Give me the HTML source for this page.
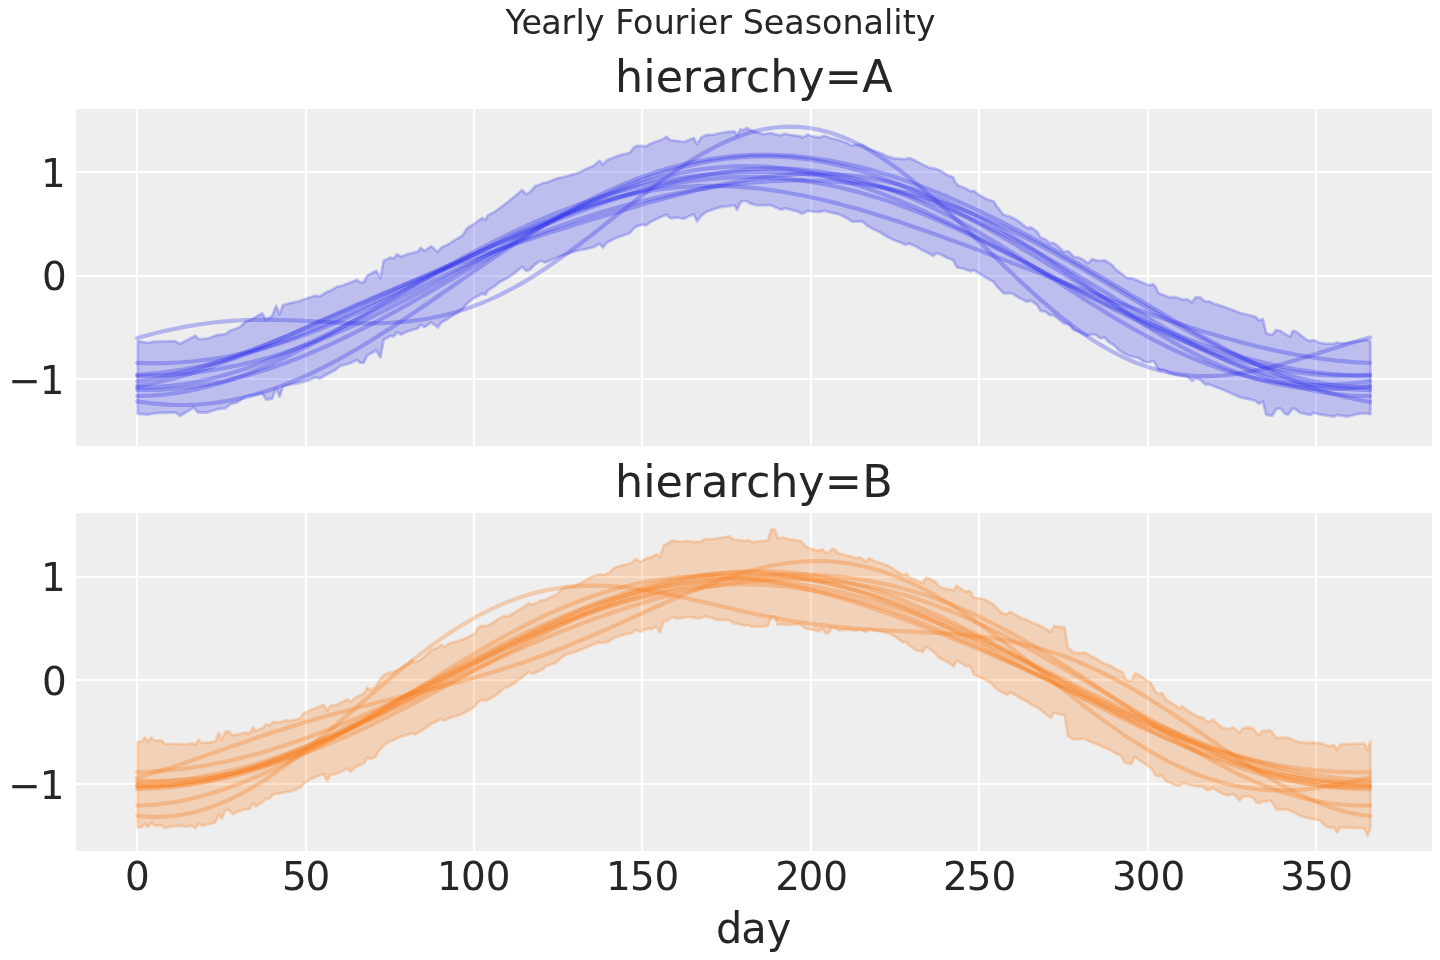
<!DOCTYPE html>
<html lang="en">
<head>
<meta charset="utf-8">
<title>Yearly Fourier Seasonality</title>
<style>
html,body{margin:0;padding:0;background:#fff;}
body{width:1440px;height:960px;overflow:hidden;}
svg{display:block;}
text{font-family:"DejaVu Sans","Liberation Sans",sans-serif;fill:#262626;}
.t{font-size:38.889px;}
.ax{font-size:44.444px;}
.su{font-size:33.333px;}
.xl{font-size:41.667px;}
.g{stroke:#fff;stroke-width:2.222;fill:none;}
.b{stroke-width:2.778;stroke-linejoin:round;fill-opacity:0.25;stroke-opacity:0.25;}
.l{fill:none;stroke-width:4.167;stroke-linecap:round;stroke-linejoin:round;stroke-opacity:0.3;}
</style>
</head>
<body>
<svg width="1440" height="960" viewBox="0 0 1440 960" role="img" aria-label="Yearly Fourier Seasonality: HDI band and sampled curves for hierarchy A and B by day">
<rect width="1440" height="960" fill="#ffffff"/>
<defs>
<clipPath id="c0"><rect x="76" y="109" width="1356" height="337"/></clipPath>
<clipPath id="c1"><rect x="76" y="513" width="1356" height="338"/></clipPath>
</defs>
<text id="sup" class="su" x="505.57 521.5 541.25 561.54 575.47 584.79 604.48 615.13 633.07 653.67 674.56 688.48 697.77 718.27 731.75 742.79 763.85 784.37 804.8 822.05 842.6 863.56 884.06 893.31 902.68 915.66" y="34.33">Yearly Fourier Seasonality</text>
<g id="panel-A">
<text id="tA" class="ax" x="615.11 643.25 655.63 682.76 701.2 728.25 745.79 770.16 798.31 824.77 862.21" y="92">hierarchy=A</text>
<rect x="76" y="109" width="1356" height="337" fill="#eeeeee"/>
<path class="g" d="M137 109V446M306 109V446M474 109V446M642 109V446M811 109V446M979 109V446M1148 109V446M1316 109V446M76 379H1432M76 276H1432M76 172H1432"/>
<g clip-path="url(#c0)" fill="#2a2eec" stroke="#2a2eec">
<path class="b" d="M137.6 340.8L147.9 343L153.7 341.7L170.4 341.2L175.4 341.3L180.4 343.8L187.1 340L195.4 335.8L198.7 339.2L207.1 338.7L217.1 335L225.4 334.2L230.4 330.5L237.1 328.3L240.4 326.7L245.4 321.7L252.1 319.2L262.1 313.3L266.2 320L272.1 315.8L276.2 305.8L279.6 314.2L282.9 305L288.7 303.3L297.1 301.7L307.1 298.3L315.4 295.5L319.6 296.7L327.1 291.7L330.4 290.8L337.1 286.7L342.1 285.8L350.4 282.5L357.1 280L360.4 282.5L363.7 282.5L367.1 275.8L376.2 270.8L380.4 278.3L383.7 260.8L390.4 257.5L393.7 258.3L397.1 254.2L401.2 256.7L407.1 254.2L417.9 251.7L420.4 248L424.6 250.8L431.2 246.3L437.9 252L441.2 247.5L447.1 245L453.7 240.8L462.1 235.8L467.1 228.3L473.7 224.2L482.1 218L485.4 219.7L487.9 215.3L493.7 212.5L500.4 207.5L507.1 202.5L515.4 195.8L522.1 190L526.2 194.2L529.6 192.5L535.4 185.8L538.7 185L542.9 183L547.1 182.5L557.1 178.3L563.7 177L573.7 174.2L580.4 172L585.4 169.2L593.7 165.8L599.6 160.8L602.9 164.7L607.1 160L615.4 156.7L623.7 154.2L629.6 153L633.7 147.5L637.1 145.8L642.9 145.8L646.2 146.3L650.4 143.7L657.1 141.3L663.7 138.7L666.7 136.7L670.4 140.3L677.1 140.8L683.7 142L688.7 140L693.7 138L697.1 144.2L701.2 137.5L706.2 135L713.7 134.7L720.4 133L727.1 132L734.6 131.3L737.1 135.3L740.4 129.2L742.9 130.3L747.1 128L750.4 130L757.1 132.5L763.7 134.2L770.4 133L777.1 134.7L781.2 135.3L784.6 133.7L790.4 135L797.1 135.8L800.4 136.3L802.1 137.5L807.9 134.7L813.7 136.7L819.6 137.5L824.6 135.8L830.4 138L838.7 140L847.1 143L852.1 145.8L855.4 144.7L862.1 145L867.1 148L873.7 150.8L880.4 153L887.1 156.3L893.7 158.3L900.4 158.8L905.4 159.2L909.6 158L915.4 160.8L922.1 164.2L928.7 167.5L935.4 168.7L940.4 170.8L947.1 175L952.9 177L955.4 182.5L958.7 185.8L963.7 187.5L970.4 191.3L973.7 190.8L980.4 195.8L987.1 199.2L993.7 201.3L997.1 206.7L1003.7 215L1010.4 216.7L1015.4 219.2L1020.4 222.5L1022.1 224.2L1027.1 228L1031.2 227.5L1037.1 231.7L1040.4 237.5L1045.4 239.2L1049.6 243L1053.7 243L1058.7 246.7L1063.7 251.7L1068.7 251.3L1073.7 256.7L1078.7 257.5L1083.7 260L1087.9 263.3L1092.1 259.2L1098.7 260.8L1104.6 260.3L1112.1 265L1115.4 269.2L1122.1 274.2L1127.1 278L1132.1 278.3L1140.4 281.7L1148.7 285.3L1152.9 284.2L1155.4 286.7L1158.7 293.3L1165.4 295.8L1169.6 297.5L1173.7 297L1180.4 298.7L1182.1 299.7L1187.1 299.2L1192.1 302.5L1195.4 297.2L1200.4 297.5L1205.4 301.7L1208.7 301.3L1215.4 304.2L1223.7 306.7L1232.1 309.7L1240.4 313L1248.7 315L1255.4 316.7L1258.7 320.3L1262.9 319.2L1266.2 333.3L1272.1 335L1276.2 330L1280.4 330.8L1285.4 334.2L1290.4 336.7L1292.9 330.8L1296.2 331.7L1302.1 336.3L1307.1 340L1310.4 340.8L1313.7 340L1318.7 342.5L1325.4 343.7L1333.7 343.7L1337.1 342.5L1342.1 343.3L1347.1 343L1353.7 341.7L1360.4 340.8L1367.1 340L1370.4 341.3L1370.4 414.2L1367.1 413.7L1360.4 413.3L1353.7 415L1347.1 416.7L1342.1 415.8L1337.1 415L1333.7 416.7L1325.4 415.3L1318.7 414.2L1313.7 413L1310.4 415L1307.1 414.2L1300.4 413L1296.2 409.7L1292.9 408.3L1287.9 414.7L1285.4 414.2L1280.4 408.3L1276.2 409.2L1272.1 415.8L1266.2 414.7L1262.9 401.7L1258.7 403.7L1255.4 400.8L1248.7 399.2L1240.4 397.5L1232.1 393.7L1223.7 390L1215.4 386.7L1208.7 384.2L1205.4 384.7L1200.4 379.7L1195.4 378.3L1192.1 380.8L1187.1 376.7L1182.1 375.8L1173.7 374.2L1168.7 372.5L1163.7 370L1158.7 370L1153.7 360.8L1148.7 362.5L1143.7 361.7L1138.7 358L1133.7 357L1128.7 355.8L1123.7 353L1118.7 350L1113.7 345L1108.7 342L1104.6 337.5L1100.4 338.3L1095.4 334.7L1090.4 334.2L1087.1 335.8L1080.4 332.5L1073.7 330L1068.7 324.2L1063.7 323.3L1058.7 319.2L1053.7 315.3L1049.6 315L1045.4 311.7L1040.4 310.8L1037.1 305L1031.2 300.8L1027.1 301.7L1022.1 299.2L1017.1 296.7L1012.1 293.3L1003.7 293.3L997.1 286.7L993.7 282L987.1 278.3L980.4 274.2L973.7 270L970.4 271.2L963.7 268.7L957.1 267.5L952.9 260L947.1 258L940.4 254.2L936.2 253.3L932.9 255.8L928.7 253.3L922.1 250L915.4 246.3L909.6 243.7L905.4 244.7L900.4 242.5L893.7 240L887.1 236.7L880.4 232.5L873.7 229.2L867.1 225.8L862.1 221.3L855.4 221.7L852.1 221.7L847.1 218.3L838.7 214.2L830.4 212.5L824.6 210.8L819.6 212L813.7 211.7L807.9 210.8L802.1 213.7L800.4 213L797.1 211.3L790.4 209.7L784.6 208.3L781.2 209.7L777.1 208L770.4 205L763.7 205.3L757.1 205.3L750.4 203.7L747.1 201.3L742.9 200.8L740.4 202.5L737.1 210L734.6 205.3L727.1 206.3L720.4 207L713.7 209.2L706.2 212L701.2 215.8L697.1 221.3L693.7 214.2L688.7 216.3L683.7 218.7L677.1 217.5L670.4 218.3L666.7 214.7L663.7 215.8L657.1 218.7L650.4 222L646.2 225.3L642.9 224.7L637.1 226.2L633.7 228.3L629.6 233.3L623.7 235.3L615.4 238.3L607.1 242.5L602.9 247.5L599.6 243.7L593.7 247L585.4 249.2L580.4 250L573.7 251.7L563.7 255L557.1 257.5L545.4 262.5L540.4 260.8L535.4 264.2L529.6 270L526.2 270.8L522.1 266.7L515.4 272.5L507.1 278.3L500.4 281.7L493.7 286.7L487.9 290.3L485.4 294.7L482.1 293.7L473.7 298.3L467.1 303.3L462.1 309.7L453.7 315L447.1 319.2L441.2 322.5L437.9 327.5L431.2 322.3L424.6 327.2L420.4 324.6L417.9 328.4L407.1 331.6L401.2 334.5L397.1 332.2L393.7 336.6L390.4 336L383.7 339.8L380.4 357.5L376.2 350.2L367.1 355.8L363.7 362.7L360.4 362.9L357.1 360L350.4 363.3L340.4 365.8L335.4 370L327.1 374.2L319.6 378.7L315.4 377.5L307.1 380.8L297.1 383.3L288.7 385L282.9 386.7L279.6 396.7L276.2 388.3L272.1 398.7L266.2 399.7L262.1 393.3L253.7 395L245.4 396.7L237.1 402.5L230.4 404.2L225.4 408.3L217.1 409.2L207.1 412.5L197.9 412.5L193.7 407.5L187.1 411.7L180.4 415.8L175.4 412.5L170.4 412.5L153.7 413.3L147.9 414.7L137.6 413.8Z"/>
<path class="l" d="M137.2 338.1L143.9 336.3L150.7 334.5L157.4 332.8L164.1 331.1L170.9 329.6L177.6 328.2L184.4 326.9L191.1 325.7L197.8 324.6L204.6 323.7L211.3 322.8L218 322.1L224.8 321.4L231.5 320.9L238.2 320.5L245 320.2L251.7 320L258.5 319.9L265.2 319.9L271.9 319.9L278.7 320L285.4 320.2L292.1 320.4L298.9 320.7L305.6 321L312.4 321.4L319.1 321.7L325.8 322L332.6 322.4L339.3 322.6L346 322.9L352.8 323.1L359.5 323.3L366.2 323.3L373 323.3L379.7 323.2L386.5 323L393.2 322.7L399.9 322.2L406.7 321.6L413.4 320.8L420.1 319.9L426.9 318.8L433.6 317.5L440.4 316.1L447.1 314.5L453.8 312.7L460.6 310.6L467.3 308.4L474 306L480.8 303.4L487.5 300.6L494.2 297.6L501 294.4L507.7 290.9L514.5 287.3L521.2 283.6L527.9 279.6L534.7 275.5L541.4 271.1L548.1 266.7L554.9 262.1L561.6 257.3L568.4 252.5L575.1 247.5L581.8 242.5L588.6 237.3L595.3 232.1L602 226.8L608.8 221.5L615.5 216.2L622.2 210.9L629 205.6L635.7 200.3L642.5 195.1L649.2 190L655.9 184.9L662.7 179.9L669.4 175.1L676.1 170.4L682.9 165.9L689.6 161.5L696.3 157.3L703.1 153.4L709.8 149.6L716.6 146.1L723.3 142.9L730 139.9L736.8 137.2L743.5 134.7L750.2 132.6L757 130.8L763.7 129.3L770.5 128.1L777.2 127.3L783.9 126.8L790.7 126.7L797.4 126.8L804.1 127.4L810.9 128.3L817.6 129.5L824.3 131.1L831.1 133L837.8 135.2L844.6 137.8L851.3 140.7L858 144L864.8 147.5L871.5 151.3L878.2 155.5L885 159.9L891.7 164.5L898.5 169.4L905.2 174.6L911.9 179.9L918.7 185.5L925.4 191.2L932.1 197.2L938.9 203.2L945.6 209.4L952.3 215.7L959.1 222.1L965.8 228.6L972.6 235.1L979.3 241.7L986 248.3L992.8 254.8L999.5 261.4L1006.2 267.9L1013 274.3L1019.7 280.7L1026.4 286.9L1033.2 293.1L1039.9 299.1L1046.7 304.9L1053.4 310.6L1060.1 316.2L1066.9 321.5L1073.6 326.6L1080.3 331.5L1087.1 336.2L1093.8 340.7L1100.6 344.9L1107.3 348.8L1114 352.5L1120.8 355.9L1127.5 359.1L1134.2 362L1141 364.6L1147.7 366.9L1154.4 369L1161.2 370.8L1167.9 372.3L1174.7 373.6L1181.4 374.6L1188.1 375.3L1194.9 375.8L1201.6 376.1L1208.3 376.1L1215.1 375.9L1221.8 375.5L1228.6 374.8L1235.3 374L1242 373L1248.8 371.9L1255.5 370.5L1262.2 369.1L1269 367.5L1275.7 365.8L1282.4 364L1289.2 362.1L1295.9 360.1L1302.7 358.1L1309.4 356L1316.1 353.9L1322.9 351.8L1329.6 349.6L1336.3 347.5L1343.1 345.4L1349.8 343.3L1356.6 341.3L1363.3 339.3L1370 337.4"/>
<path class="l" d="M137.2 362.9L143.9 363.1L150.7 363.2L157.4 363.2L164.1 363.1L170.9 362.8L177.6 362.5L184.4 362L191.1 361.5L197.8 360.8L204.6 360L211.3 359.1L218 358.1L224.8 357L231.5 355.7L238.2 354.3L245 352.8L251.7 351.3L258.5 349.5L265.2 347.7L271.9 345.8L278.7 343.8L285.4 341.6L292.1 339.4L298.9 337.1L305.6 334.6L312.4 332.1L319.1 329.5L325.8 326.8L332.6 324L339.3 321.1L346 318.2L352.8 315.1L359.5 312.1L366.2 308.9L373 305.7L379.7 302.5L386.5 299.2L393.2 295.8L399.9 292.5L406.7 289L413.4 285.6L420.1 282.2L426.9 278.7L433.6 275.2L440.4 271.8L447.1 268.3L453.8 264.8L460.6 261.4L467.3 257.9L474 254.5L480.8 251.2L487.5 247.8L494.2 244.6L501 241.3L507.7 238.1L514.5 235L521.2 231.9L527.9 228.9L534.7 226L541.4 223.2L548.1 220.4L554.9 217.7L561.6 215.1L568.4 212.6L575.1 210.2L581.8 207.9L588.6 205.7L595.3 203.6L602 201.7L608.8 199.8L615.5 198L622.2 196.4L629 194.9L635.7 193.4L642.5 192.2L649.2 191L655.9 189.9L662.7 189L669.4 188.2L676.1 187.5L682.9 186.9L689.6 186.5L696.3 186.2L703.1 185.9L709.8 185.9L716.6 185.9L723.3 186L730 186.3L736.8 186.6L743.5 187.1L750.2 187.7L757 188.3L763.7 189.1L770.5 190L777.2 191L783.9 192L790.7 193.2L797.4 194.5L804.1 195.8L810.9 197.2L817.6 198.7L824.3 200.3L831.1 201.9L837.8 203.6L844.6 205.4L851.3 207.2L858 209.1L864.8 211.1L871.5 213.1L878.2 215.2L885 217.3L891.7 219.4L898.5 221.6L905.2 223.9L911.9 226.2L918.7 228.5L925.4 230.8L932.1 233.2L938.9 235.6L945.6 238L952.3 240.5L959.1 242.9L965.8 245.4L972.6 247.9L979.3 250.4L986 253L992.8 255.5L999.5 258.1L1006.2 260.6L1013 263.2L1019.7 265.7L1026.4 268.3L1033.2 270.9L1039.9 273.4L1046.7 276L1053.4 278.5L1060.1 281.1L1066.9 283.6L1073.6 286.2L1080.3 288.7L1087.1 291.2L1093.8 293.7L1100.6 296.2L1107.3 298.7L1114 301.2L1120.8 303.6L1127.5 306L1134.2 308.4L1141 310.8L1147.7 313.2L1154.4 315.5L1161.2 317.8L1167.9 320.1L1174.7 322.3L1181.4 324.5L1188.1 326.7L1194.9 328.8L1201.6 330.9L1208.3 333L1215.1 335L1221.8 336.9L1228.6 338.8L1235.3 340.7L1242 342.5L1248.8 344.2L1255.5 345.9L1262.2 347.5L1269 349.1L1275.7 350.6L1282.4 352L1289.2 353.4L1295.9 354.7L1302.7 355.8L1309.4 357L1316.1 358L1322.9 358.9L1329.6 359.8L1336.3 360.6L1343.1 361.2L1349.8 361.8L1356.6 362.3L1363.3 362.7L1370 362.9"/>
<path class="l" d="M137.2 401.4L143.9 402.4L150.7 403.3L157.4 403.9L164.1 404.4L170.9 404.8L177.6 405L184.4 405L191.1 404.8L197.8 404.5L204.6 403.9L211.3 403.2L218 402.4L224.8 401.3L231.5 400.1L238.2 398.7L245 397.2L251.7 395.5L258.5 393.6L265.2 391.5L271.9 389.3L278.7 386.9L285.4 384.4L292.1 381.7L298.9 378.9L305.6 375.9L312.4 372.8L319.1 369.5L325.8 366.2L332.6 362.7L339.3 359L346 355.3L352.8 351.5L359.5 347.5L366.2 343.5L373 339.3L379.7 335.1L386.5 330.8L393.2 326.5L399.9 322.1L406.7 317.6L413.4 313.1L420.1 308.5L426.9 303.9L433.6 299.2L440.4 294.6L447.1 289.9L453.8 285.3L460.6 280.6L467.3 275.9L474 271.3L480.8 266.6L487.5 262L494.2 257.5L501 252.9L507.7 248.5L514.5 244L521.2 239.7L527.9 235.4L534.7 231.1L541.4 227L548.1 222.9L554.9 218.9L561.6 215L568.4 211.2L575.1 207.5L581.8 203.9L588.6 200.4L595.3 197L602 193.8L608.8 190.6L615.5 187.6L622.2 184.7L629 181.9L635.7 179.3L642.5 176.8L649.2 174.4L655.9 172.1L662.7 170L669.4 168.1L676.1 166.2L682.9 164.5L689.6 162.9L696.3 161.5L703.1 160.2L709.8 159.1L716.6 158.1L723.3 157.2L730 156.4L736.8 155.8L743.5 155.4L750.2 155L757 154.8L763.7 154.8L770.5 154.8L777.2 155L783.9 155.3L790.7 155.7L797.4 156.3L804.1 157L810.9 157.8L817.6 158.7L824.3 159.8L831.1 160.9L837.8 162.2L844.6 163.6L851.3 165L858 166.6L864.8 168.3L871.5 170.1L878.2 172L885 174L891.7 176.1L898.5 178.3L905.2 180.6L911.9 182.9L918.7 185.4L925.4 187.9L932.1 190.6L938.9 193.3L945.6 196L952.3 198.9L959.1 201.8L965.8 204.9L972.6 207.9L979.3 211.1L986 214.3L992.8 217.6L999.5 220.9L1006.2 224.3L1013 227.8L1019.7 231.3L1026.4 234.9L1033.2 238.5L1039.9 242.2L1046.7 245.9L1053.4 249.6L1060.1 253.4L1066.9 257.3L1073.6 261.1L1080.3 265L1087.1 268.9L1093.8 272.9L1100.6 276.8L1107.3 280.8L1114 284.8L1120.8 288.8L1127.5 292.8L1134.2 296.8L1141 300.8L1147.7 304.8L1154.4 308.8L1161.2 312.8L1167.9 316.7L1174.7 320.7L1181.4 324.6L1188.1 328.4L1194.9 332.2L1201.6 336L1208.3 339.8L1215.1 343.4L1221.8 347.1L1228.6 350.6L1235.3 354.1L1242 357.5L1248.8 360.8L1255.5 364.1L1262.2 367.2L1269 370.3L1275.7 373.3L1282.4 376.1L1289.2 378.9L1295.9 381.5L1302.7 384.1L1309.4 386.5L1316.1 388.7L1322.9 390.9L1329.6 392.9L1336.3 394.7L1343.1 396.4L1349.8 398L1356.6 399.4L1363.3 400.7L1370 401.8"/>
<path class="l" d="M137.2 390L143.9 390L150.7 390L157.4 389.8L164.1 389.5L170.9 389L177.6 388.5L184.4 387.8L191.1 386.9L197.8 386L204.6 384.9L211.3 383.7L218 382.4L224.8 381L231.5 379.4L238.2 377.8L245 376L251.7 374.1L258.5 372.1L265.2 370L271.9 367.8L278.7 365.4L285.4 363L292.1 360.5L298.9 357.9L305.6 355.1L312.4 352.3L319.1 349.4L325.8 346.5L332.6 343.4L339.3 340.2L346 337L352.8 333.7L359.5 330.4L366.2 326.9L373 323.4L379.7 319.9L386.5 316.2L393.2 312.6L399.9 308.9L406.7 305.1L413.4 301.3L420.1 297.5L426.9 293.6L433.6 289.7L440.4 285.8L447.1 281.9L453.8 277.9L460.6 273.9L467.3 270L474 266L480.8 262L487.5 258.1L494.2 254.1L501 250.2L507.7 246.3L514.5 242.4L521.2 238.5L527.9 234.7L534.7 230.9L541.4 227.2L548.1 223.5L554.9 219.9L561.6 216.3L568.4 212.8L575.1 209.4L581.8 206L588.6 202.8L595.3 199.6L602 196.4L608.8 193.4L615.5 190.5L622.2 187.6L629 184.9L635.7 182.3L642.5 179.8L649.2 177.3L655.9 175.1L662.7 172.9L669.4 170.8L676.1 168.9L682.9 167.1L689.6 165.4L696.3 163.9L703.1 162.5L709.8 161.3L716.6 160.2L723.3 159.2L730 158.3L736.8 157.7L743.5 157.1L750.2 156.7L757 156.5L763.7 156.4L770.5 156.4L777.2 156.6L783.9 157L790.7 157.4L797.4 158.1L804.1 158.9L810.9 159.8L817.6 160.9L824.3 162.1L831.1 163.5L837.8 165L844.6 166.6L851.3 168.4L858 170.3L864.8 172.3L871.5 174.5L878.2 176.8L885 179.2L891.7 181.8L898.5 184.4L905.2 187.2L911.9 190L918.7 193L925.4 196.1L932.1 199.3L938.9 202.5L945.6 205.9L952.3 209.3L959.1 212.8L965.8 216.4L972.6 220.1L979.3 223.8L986 227.6L992.8 231.4L999.5 235.3L1006.2 239.2L1013 243.1L1019.7 247.1L1026.4 251.2L1033.2 255.2L1039.9 259.3L1046.7 263.4L1053.4 267.4L1060.1 271.5L1066.9 275.6L1073.6 279.7L1080.3 283.8L1087.1 287.8L1093.8 291.8L1100.6 295.8L1107.3 299.8L1114 303.7L1120.8 307.6L1127.5 311.4L1134.2 315.2L1141 319L1147.7 322.6L1154.4 326.2L1161.2 329.8L1167.9 333.3L1174.7 336.7L1181.4 340L1188.1 343.2L1194.9 346.4L1201.6 349.4L1208.3 352.4L1215.1 355.3L1221.8 358L1228.6 360.7L1235.3 363.3L1242 365.7L1248.8 368.1L1255.5 370.3L1262.2 372.5L1269 374.5L1275.7 376.4L1282.4 378.2L1289.2 379.8L1295.9 381.4L1302.7 382.8L1309.4 384.1L1316.1 385.3L1322.9 386.3L1329.6 387.2L1336.3 388L1343.1 388.7L1349.8 389.2L1356.6 389.6L1363.3 389.9L1370 390"/>
<path class="l" d="M137.2 387.4L143.9 387.4L150.7 387.2L157.4 386.9L164.1 386.4L170.9 385.8L177.6 384.9L184.4 384L191.1 382.8L197.8 381.6L204.6 380.1L211.3 378.6L218 376.9L224.8 375L231.5 373.1L238.2 371L245 368.8L251.7 366.4L258.5 364L265.2 361.5L271.9 358.8L278.7 356.1L285.4 353.3L292.1 350.4L298.9 347.4L305.6 344.4L312.4 341.3L319.1 338.1L325.8 334.9L332.6 331.6L339.3 328.3L346 325L352.8 321.6L359.5 318.2L366.2 314.8L373 311.3L379.7 307.9L386.5 304.5L393.2 301L399.9 297.6L406.7 294.2L413.4 290.8L420.1 287.4L426.9 284L433.6 280.7L440.4 277.3L447.1 274.1L453.8 270.8L460.6 267.6L467.3 264.4L474 261.3L480.8 258.2L487.5 255.2L494.2 252.2L501 249.3L507.7 246.4L514.5 243.6L521.2 240.8L527.9 238.1L534.7 235.4L541.4 232.8L548.1 230.3L554.9 227.8L561.6 225.4L568.4 223L575.1 220.7L581.8 218.5L588.6 216.3L595.3 214.2L602 212.1L608.8 210.1L615.5 208.2L622.2 206.3L629 204.5L635.7 202.8L642.5 201.1L649.2 199.4L655.9 197.9L662.7 196.4L669.4 194.9L676.1 193.5L682.9 192.2L689.6 190.9L696.3 189.8L703.1 188.6L709.8 187.6L716.6 186.6L723.3 185.7L730 184.8L736.8 184L743.5 183.3L750.2 182.7L757 182.1L763.7 181.6L770.5 181.2L777.2 180.9L783.9 180.6L790.7 180.5L797.4 180.4L804.1 180.4L810.9 180.5L817.6 180.7L824.3 181L831.1 181.4L837.8 181.9L844.6 182.4L851.3 183.1L858 183.9L864.8 184.8L871.5 185.7L878.2 186.8L885 188L891.7 189.3L898.5 190.8L905.2 192.3L911.9 193.9L918.7 195.7L925.4 197.5L932.1 199.5L938.9 201.6L945.6 203.8L952.3 206.1L959.1 208.5L965.8 211L972.6 213.6L979.3 216.4L986 219.2L992.8 222.1L999.5 225.1L1006.2 228.3L1013 231.5L1019.7 234.8L1026.4 238.2L1033.2 241.6L1039.9 245.2L1046.7 248.8L1053.4 252.5L1060.1 256.2L1066.9 260L1073.6 263.9L1080.3 267.8L1087.1 271.7L1093.8 275.7L1100.6 279.7L1107.3 283.7L1114 287.8L1120.8 291.8L1127.5 295.9L1134.2 299.9L1141 303.9L1147.7 307.9L1154.4 311.9L1161.2 315.8L1167.9 319.7L1174.7 323.6L1181.4 327.4L1188.1 331.1L1194.9 334.8L1201.6 338.4L1208.3 341.9L1215.1 345.3L1221.8 348.6L1228.6 351.8L1235.3 355L1242 358L1248.8 360.8L1255.5 363.6L1262.2 366.2L1269 368.7L1275.7 371L1282.4 373.2L1289.2 375.3L1295.9 377.2L1302.7 378.9L1309.4 380.5L1316.1 381.9L1322.9 383.2L1329.6 384.3L1336.3 385.3L1343.1 386L1349.8 386.6L1356.6 387.1L1363.3 387.3L1370 387.4"/>
<path class="l" d="M137.2 396L143.9 395.9L150.7 395.7L157.4 395.2L164.1 394.6L170.9 393.8L177.6 392.9L184.4 391.7L191.1 390.4L197.8 389L204.6 387.4L211.3 385.6L218 383.7L224.8 381.7L231.5 379.5L238.2 377.1L245 374.6L251.7 372L258.5 369.3L265.2 366.5L271.9 363.5L278.7 360.4L285.4 357.3L292.1 354L298.9 350.7L305.6 347.2L312.4 343.7L319.1 340.1L325.8 336.5L332.6 332.8L339.3 329L346 325.2L352.8 321.3L359.5 317.5L366.2 313.6L373 309.6L379.7 305.7L386.5 301.7L393.2 297.8L399.9 293.8L406.7 289.8L413.4 285.9L420.1 282L426.9 278.1L433.6 274.2L440.4 270.4L447.1 266.6L453.8 262.8L460.6 259.1L467.3 255.4L474 251.8L480.8 248.3L487.5 244.8L494.2 241.3L501 238L507.7 234.6L514.5 231.4L521.2 228.3L527.9 225.2L534.7 222.2L541.4 219.3L548.1 216.4L554.9 213.7L561.6 211L568.4 208.4L575.1 205.9L581.8 203.5L588.6 201.1L595.3 198.9L602 196.7L608.8 194.7L615.5 192.7L622.2 190.8L629 189L635.7 187.3L642.5 185.7L649.2 184.1L655.9 182.7L662.7 181.3L669.4 180.1L676.1 178.9L682.9 177.8L689.6 176.8L696.3 175.9L703.1 175.1L709.8 174.4L716.6 173.8L723.3 173.3L730 172.8L736.8 172.4L743.5 172.2L750.2 172L757 171.9L763.7 171.9L770.5 172L777.2 172.2L783.9 172.5L790.7 172.9L797.4 173.4L804.1 173.9L810.9 174.6L817.6 175.3L824.3 176.2L831.1 177.1L837.8 178.2L844.6 179.3L851.3 180.6L858 181.9L864.8 183.3L871.5 184.9L878.2 186.5L885 188.3L891.7 190.1L898.5 192L905.2 194.1L911.9 196.2L918.7 198.4L925.4 200.7L932.1 203.2L938.9 205.7L945.6 208.3L952.3 211L959.1 213.8L965.8 216.7L972.6 219.7L979.3 222.8L986 225.9L992.8 229.2L999.5 232.5L1006.2 235.9L1013 239.4L1019.7 242.9L1026.4 246.5L1033.2 250.2L1039.9 253.9L1046.7 257.7L1053.4 261.6L1060.1 265.4L1066.9 269.4L1073.6 273.4L1080.3 277.4L1087.1 281.4L1093.8 285.4L1100.6 289.5L1107.3 293.6L1114 297.7L1120.8 301.8L1127.5 305.8L1134.2 309.9L1141 313.9L1147.7 317.9L1154.4 321.9L1161.2 325.9L1167.9 329.7L1174.7 333.6L1181.4 337.4L1188.1 341.1L1194.9 344.7L1201.6 348.3L1208.3 351.8L1215.1 355.1L1221.8 358.4L1228.6 361.6L1235.3 364.7L1242 367.6L1248.8 370.5L1255.5 373.2L1262.2 375.8L1269 378.2L1275.7 380.5L1282.4 382.7L1289.2 384.7L1295.9 386.5L1302.7 388.2L1309.4 389.7L1316.1 391.1L1322.9 392.3L1329.6 393.4L1336.3 394.2L1343.1 394.9L1349.8 395.5L1356.6 395.8L1363.3 396L1370 396"/>
<path class="l" d="M137.2 375.8L143.9 375.8L150.7 375.7L157.4 375.5L164.1 375.3L170.9 374.9L177.6 374.4L184.4 373.8L191.1 373.1L197.8 372.3L204.6 371.3L211.3 370.3L218 369.2L224.8 367.9L231.5 366.6L238.2 365.2L245 363.6L251.7 362L258.5 360.2L265.2 358.4L271.9 356.4L278.7 354.4L285.4 352.2L292.1 350L298.9 347.6L305.6 345.2L312.4 342.7L319.1 340.1L325.8 337.4L332.6 334.6L339.3 331.7L346 328.8L352.8 325.8L359.5 322.7L366.2 319.5L373 316.3L379.7 313L386.5 309.6L393.2 306.2L399.9 302.8L406.7 299.3L413.4 295.7L420.1 292.1L426.9 288.5L433.6 284.8L440.4 281.1L447.1 277.4L453.8 273.7L460.6 269.9L467.3 266.2L474 262.4L480.8 258.7L487.5 254.9L494.2 251.2L501 247.5L507.7 243.8L514.5 240.1L521.2 236.5L527.9 232.9L534.7 229.4L541.4 225.9L548.1 222.4L554.9 219.1L561.6 215.8L568.4 212.5L575.1 209.3L581.8 206.3L588.6 203.3L595.3 200.3L602 197.5L608.8 194.8L615.5 192.2L622.2 189.7L629 187.3L635.7 185L642.5 182.8L649.2 180.8L655.9 178.9L662.7 177.1L669.4 175.4L676.1 173.9L682.9 172.5L689.6 171.2L696.3 170.1L703.1 169.1L709.8 168.3L716.6 167.6L723.3 167L730 166.6L736.8 166.3L743.5 166.2L750.2 166.3L757 166.4L763.7 166.7L770.5 167.2L777.2 167.8L783.9 168.5L790.7 169.4L797.4 170.4L804.1 171.6L810.9 172.9L817.6 174.3L824.3 175.8L831.1 177.5L837.8 179.3L844.6 181.2L851.3 183.2L858 185.3L864.8 187.6L871.5 189.9L878.2 192.4L885 194.9L891.7 197.6L898.5 200.3L905.2 203.1L911.9 206L918.7 209L925.4 212L932.1 215.1L938.9 218.3L945.6 221.5L952.3 224.8L959.1 228.1L965.8 231.5L972.6 234.9L979.3 238.3L986 241.8L992.8 245.3L999.5 248.8L1006.2 252.3L1013 255.9L1019.7 259.4L1026.4 263L1033.2 266.5L1039.9 270L1046.7 273.6L1053.4 277.1L1060.1 280.6L1066.9 284.1L1073.6 287.5L1080.3 290.9L1087.1 294.3L1093.8 297.7L1100.6 301L1107.3 304.3L1114 307.5L1120.8 310.7L1127.5 313.8L1134.2 316.9L1141 319.9L1147.7 322.9L1154.4 325.8L1161.2 328.6L1167.9 331.4L1174.7 334.1L1181.4 336.8L1188.1 339.3L1194.9 341.8L1201.6 344.2L1208.3 346.5L1215.1 348.8L1221.8 351L1228.6 353.1L1235.3 355.1L1242 357L1248.8 358.8L1255.5 360.6L1262.2 362.2L1269 363.8L1275.7 365.3L1282.4 366.7L1289.2 368L1295.9 369.2L1302.7 370.3L1309.4 371.3L1316.1 372.2L1322.9 373L1329.6 373.7L1336.3 374.3L1343.1 374.8L1349.8 375.2L1356.6 375.5L1363.3 375.7L1370 375.8"/>
<path class="l" d="M137.2 381.5L143.9 380.4L150.7 379.3L157.4 378L164.1 376.6L170.9 375.1L177.6 373.4L184.4 371.7L191.1 369.9L197.8 368L204.6 366L211.3 363.9L218 361.7L224.8 359.5L231.5 357.2L238.2 354.8L245 352.3L251.7 349.8L258.5 347.3L265.2 344.7L271.9 342L278.7 339.3L285.4 336.6L292.1 333.8L298.9 331L305.6 328.2L312.4 325.3L319.1 322.4L325.8 319.5L332.6 316.6L339.3 313.6L346 310.7L352.8 307.7L359.5 304.7L366.2 301.8L373 298.8L379.7 295.8L386.5 292.8L393.2 289.8L399.9 286.8L406.7 283.8L413.4 280.8L420.1 277.9L426.9 274.9L433.6 271.9L440.4 269L447.1 266L453.8 263.1L460.6 260.2L467.3 257.2L474 254.3L480.8 251.5L487.5 248.6L494.2 245.7L501 242.9L507.7 240.1L514.5 237.3L521.2 234.5L527.9 231.7L534.7 229L541.4 226.3L548.1 223.6L554.9 221L561.6 218.4L568.4 215.8L575.1 213.2L581.8 210.7L588.6 208.3L595.3 205.9L602 203.5L608.8 201.1L615.5 198.9L622.2 196.6L629 194.5L635.7 192.4L642.5 190.3L649.2 188.4L655.9 186.5L662.7 184.6L669.4 182.9L676.1 181.2L682.9 179.6L689.6 178.1L696.3 176.7L703.1 175.4L709.8 174.2L716.6 173.2L723.3 172.2L730 171.3L736.8 170.5L743.5 169.9L750.2 169.4L757 169L763.7 168.7L770.5 168.5L777.2 168.5L783.9 168.7L790.7 168.9L797.4 169.3L804.1 169.9L810.9 170.6L817.6 171.4L824.3 172.4L831.1 173.5L837.8 174.8L844.6 176.2L851.3 177.7L858 179.5L864.8 181.3L871.5 183.3L878.2 185.5L885 187.7L891.7 190.2L898.5 192.7L905.2 195.4L911.9 198.2L918.7 201.2L925.4 204.3L932.1 207.5L938.9 210.8L945.6 214.2L952.3 217.7L959.1 221.4L965.8 225.1L972.6 228.9L979.3 232.8L986 236.8L992.8 240.8L999.5 244.9L1006.2 249.1L1013 253.3L1019.7 257.6L1026.4 261.9L1033.2 266.2L1039.9 270.5L1046.7 274.9L1053.4 279.2L1060.1 283.6L1066.9 288L1073.6 292.3L1080.3 296.6L1087.1 300.9L1093.8 305.1L1100.6 309.3L1107.3 313.4L1114 317.5L1120.8 321.5L1127.5 325.4L1134.2 329.3L1141 333L1147.7 336.7L1154.4 340.3L1161.2 343.7L1167.9 347.1L1174.7 350.3L1181.4 353.4L1188.1 356.4L1194.9 359.2L1201.6 361.9L1208.3 364.5L1215.1 366.9L1221.8 369.2L1228.6 371.3L1235.3 373.3L1242 375.1L1248.8 376.8L1255.5 378.4L1262.2 379.7L1269 380.9L1275.7 382L1282.4 382.9L1289.2 383.7L1295.9 384.3L1302.7 384.7L1309.4 385L1316.1 385.1L1322.9 385.1L1329.6 385L1336.3 384.7L1343.1 384.2L1349.8 383.6L1356.6 382.9L1363.3 382.1L1370 381.1"/>
<path class="l" d="M137.2 386.1L143.9 385L150.7 383.7L157.4 382.4L164.1 380.8L170.9 379.2L177.6 377.4L184.4 375.5L191.1 373.5L197.8 371.3L204.6 369.1L211.3 366.8L218 364.3L224.8 361.8L231.5 359.3L238.2 356.6L245 353.9L251.7 351.1L258.5 348.3L265.2 345.4L271.9 342.5L278.7 339.5L285.4 336.6L292.1 333.6L298.9 330.6L305.6 327.5L312.4 324.5L319.1 321.5L325.8 318.5L332.6 315.4L339.3 312.4L346 309.5L352.8 306.5L359.5 303.5L366.2 300.6L373 297.7L379.7 294.8L386.5 292L393.2 289.2L399.9 286.4L406.7 283.6L413.4 280.9L420.1 278.2L426.9 275.6L433.6 273L440.4 270.4L447.1 267.9L453.8 265.4L460.6 262.9L467.3 260.4L474 258L480.8 255.6L487.5 253.3L494.2 251L501 248.6L507.7 246.4L514.5 244.1L521.2 241.9L527.9 239.7L534.7 237.5L541.4 235.3L548.1 233.1L554.9 231L561.6 228.9L568.4 226.7L575.1 224.6L581.8 222.6L588.6 220.5L595.3 218.4L602 216.4L608.8 214.4L615.5 212.4L622.2 210.4L629 208.4L635.7 206.5L642.5 204.5L649.2 202.6L655.9 200.8L662.7 198.9L669.4 197.1L676.1 195.4L682.9 193.6L689.6 191.9L696.3 190.3L703.1 188.7L709.8 187.1L716.6 185.7L723.3 184.3L730 182.9L736.8 181.6L743.5 180.4L750.2 179.3L757 178.3L763.7 177.3L770.5 176.5L777.2 175.8L783.9 175.1L790.7 174.6L797.4 174.2L804.1 173.9L810.9 173.7L817.6 173.7L824.3 173.8L831.1 174L837.8 174.4L844.6 174.9L851.3 175.6L858 176.4L864.8 177.4L871.5 178.5L878.2 179.8L885 181.2L891.7 182.8L898.5 184.5L905.2 186.4L911.9 188.5L918.7 190.7L925.4 193.1L932.1 195.6L938.9 198.3L945.6 201.2L952.3 204.1L959.1 207.3L965.8 210.5L972.6 213.9L979.3 217.4L986 221.1L992.8 224.8L999.5 228.7L1006.2 232.7L1013 236.8L1019.7 241L1026.4 245.3L1033.2 249.6L1039.9 254L1046.7 258.5L1053.4 263L1060.1 267.6L1066.9 272.2L1073.6 276.8L1080.3 281.5L1087.1 286.1L1093.8 290.8L1100.6 295.4L1107.3 300L1114 304.6L1120.8 309.1L1127.5 313.6L1134.2 318.1L1141 322.4L1147.7 326.7L1154.4 330.9L1161.2 335L1167.9 339L1174.7 342.9L1181.4 346.7L1188.1 350.4L1194.9 353.9L1201.6 357.3L1208.3 360.5L1215.1 363.6L1221.8 366.5L1228.6 369.2L1235.3 371.8L1242 374.2L1248.8 376.5L1255.5 378.6L1262.2 380.4L1269 382.1L1275.7 383.7L1282.4 385L1289.2 386.1L1295.9 387.1L1302.7 387.9L1309.4 388.4L1316.1 388.8L1322.9 389.1L1329.6 389.1L1336.3 388.9L1343.1 388.6L1349.8 388.1L1356.6 387.5L1363.3 386.7L1370 385.7"/>
<path class="l" d="M137.2 374.9L143.9 374.4L150.7 373.8L157.4 373.2L164.1 372.4L170.9 371.4L177.6 370.4L184.4 369.3L191.1 368L197.8 366.7L204.6 365.2L211.3 363.6L218 362L224.8 360.2L231.5 358.4L238.2 356.4L245 354.4L251.7 352.2L258.5 350L265.2 347.7L271.9 345.4L278.7 342.9L285.4 340.4L292.1 337.8L298.9 335.1L305.6 332.4L312.4 329.7L319.1 326.8L325.8 323.9L332.6 321L339.3 318L346 315L352.8 312L359.5 308.9L366.2 305.7L373 302.6L379.7 299.4L386.5 296.2L393.2 293L399.9 289.8L406.7 286.5L413.4 283.3L420.1 280L426.9 276.8L433.6 273.5L440.4 270.2L447.1 267L453.8 263.8L460.6 260.6L467.3 257.4L474 254.2L480.8 251L487.5 247.9L494.2 244.8L501 241.8L507.7 238.8L514.5 235.8L521.2 232.8L527.9 229.9L534.7 227.1L541.4 224.3L548.1 221.6L554.9 218.9L561.6 216.3L568.4 213.7L575.1 211.2L581.8 208.8L588.6 206.5L595.3 204.2L602 202L608.8 199.9L615.5 197.8L622.2 195.9L629 194L635.7 192.2L642.5 190.5L649.2 188.9L655.9 187.4L662.7 186L669.4 184.6L676.1 183.4L682.9 182.3L689.6 181.3L696.3 180.4L703.1 179.6L709.8 178.9L716.6 178.3L723.3 177.8L730 177.4L736.8 177.2L743.5 177L750.2 177L757 177.1L763.7 177.3L770.5 177.6L777.2 178L783.9 178.6L790.7 179.2L797.4 180L804.1 180.9L810.9 181.9L817.6 183L824.3 184.2L831.1 185.6L837.8 187L844.6 188.6L851.3 190.2L858 192L864.8 193.9L871.5 195.9L878.2 198L885 200.1L891.7 202.4L898.5 204.8L905.2 207.3L911.9 209.8L918.7 212.4L925.4 215.2L932.1 218L938.9 220.8L945.6 223.8L952.3 226.8L959.1 229.9L965.8 233.1L972.6 236.3L979.3 239.5L986 242.8L992.8 246.2L999.5 249.6L1006.2 253L1013 256.5L1019.7 260L1026.4 263.5L1033.2 267.1L1039.9 270.6L1046.7 274.2L1053.4 277.7L1060.1 281.3L1066.9 284.9L1073.6 288.4L1080.3 292L1087.1 295.5L1093.8 299L1100.6 302.5L1107.3 305.9L1114 309.3L1120.8 312.6L1127.5 315.9L1134.2 319.2L1141 322.4L1147.7 325.5L1154.4 328.6L1161.2 331.6L1167.9 334.5L1174.7 337.4L1181.4 340.2L1188.1 342.9L1194.9 345.5L1201.6 348L1208.3 350.4L1215.1 352.7L1221.8 354.9L1228.6 357.1L1235.3 359.1L1242 361L1248.8 362.8L1255.5 364.4L1262.2 366L1269 367.5L1275.7 368.8L1282.4 370L1289.2 371.1L1295.9 372.1L1302.7 372.9L1309.4 373.7L1316.1 374.3L1322.9 374.8L1329.6 375.1L1336.3 375.4L1343.1 375.5L1349.8 375.5L1356.6 375.3L1363.3 375.1L1370 374.7"/>
</g>
<text id="yA1" class="t" x="41.1" y="186.6">1</text>
<text id="yA0" class="t" x="41.97" y="290.3">0</text>
<text id="yAm1" class="t" x="8.15 39.72" y="394">−1</text>
</g>
<g id="panel-B">
<text id="tB" class="ax" x="615.06 643.2 655.58 682.71 701.15 728.2 745.99 770.35 798.27 824.72 862.21" y="496.75">hierarchy=B</text>
<rect x="76" y="513" width="1356" height="338" fill="#eeeeee"/>
<path class="g" d="M137 513V851M306 513V851M474 513V851M642 513V851M811 513V851M979 513V851M1148 513V851M1316 513V851M76 784H1432M76 680H1432M76 577H1432"/>
<g clip-path="url(#c1)" fill="#fa7c17" stroke="#fa7c17">
<path class="b" d="M137.6 741.7L141.2 741.7L144.9 737.2L147.9 741.7L151.2 737.5L154.6 740.5L161.2 740.3L164.6 743.7L170.4 743.8L177.1 744.2L187.1 744.2L192.1 743L195.4 744.7L198.4 740L202.1 743L208.7 742.5L215.4 741.3L218.7 732.5L221.7 739.2L225.4 731.7L228.7 731.3L232.9 735.3L238.7 734.2L245.4 732.5L249.6 733.3L252.9 727.5L255.7 730.8L262.1 728.3L266.2 724.2L268.7 725.3L273.7 721.7L278.7 722.5L285.4 720.3L290.4 720.8L295.4 719.7L300.4 718L303.7 713.3L310.4 710.3L317.1 707.5L323.7 704.7L327.1 710.8L330.4 705.8L337.1 704.7L342.1 702L347.1 699.2L350.4 701.7L355.4 697.5L360.4 695.3L364.6 693L367.1 687.5L370.4 690L375.4 686.7L379.6 680L382.9 675.8L387.9 673L392.1 672.5L398.7 669.2L407.1 664.2L412.1 660L414.6 662.5L418.7 660.8L425.4 655.8L431.2 649.7L436.2 648.3L441.2 644.7L444.6 646.7L450.4 643L457.1 641.3L463.7 639.2L470.4 635.8L474.6 633.7L477.9 628.3L482.1 625.8L486.2 626.3L492.1 623.3L498.7 618.7L504.6 615.8L508.7 616.3L515.4 612L522.1 608L528.7 603L532.9 604.7L537.1 602.5L540.4 600.8L543.7 600L545.4 600L550.4 597L556.2 595L560.4 590.3L565.4 587L573.7 586.3L582.1 582.5L590.4 577.5L598.7 574.2L603.7 575L608.7 573L613.7 568.3L620.4 565.8L627.1 564.2L631.2 563L636.2 559.2L640.4 561.7L647.1 558L651.2 557.5L656.2 554.2L660.1 557L663.7 545.3L667.9 543.3L672.1 540.3L677.1 541.7L683.7 541.7L687.1 540.8L692.1 542L700.4 541.7L704.6 539.2L712.1 539.2L717.1 538.7L722.1 537.5L729.6 536.3L733.7 539.7L740.4 540L744.6 540.8L747.9 540L752.1 542L757.1 541.7L763.7 540.8L767.9 540.3L771.2 529.7L774.6 529.7L777.9 538.3L782.1 537.5L788.7 539.2L795.4 540L801.2 541.3L805.4 546.3L812.1 549.2L818.7 550.8L822.1 549.2L825.4 552.5L828.7 552.5L832.1 548.7L834.6 549.2L838.7 553.7L845.4 555L852.1 556.7L856.2 558.3L859.6 557.2L862.9 559.2L866.2 561.7L869.1 558.3L873.7 560.8L880.4 563L888.7 565.8L893.7 569.2L898.7 572.5L902.9 575L906.2 573.7L909.6 577.5L915.4 580L922.9 583.3L926.2 577.5L930.4 579.2L935.4 581.7L939.6 587L943.7 588.3L948.7 589.2L953.7 590.3L956.7 585.8L960.4 588.3L965.4 591.7L969.6 590.8L973.7 597.5L978.7 598.3L983.7 599.2L992.1 603.3L997.1 608.3L1000.4 611.7L1003.7 613.7L1007.1 614.2L1010.4 611.7L1015.4 614.7L1022.1 618.3L1027.1 619.7L1032.1 622.5L1038.7 625L1045.4 628.7L1050.7 632L1054.1 625.8L1058.7 627L1064.6 627.5L1067.9 647.5L1073.7 652.5L1078.7 653L1084.6 652.5L1090.4 655.8L1097.1 659.2L1103.7 663.3L1110.4 665.8L1117.1 669.7L1122.1 671.7L1125.4 679.2L1128.7 680.8L1132.1 680L1135.1 673L1140.4 675.8L1146.2 680L1151.2 683.7L1155.4 691.7L1158.7 694.2L1162.1 693L1166.2 700L1172.1 703.3L1177.1 706.7L1180.4 708.3L1182.1 706.3L1187.1 710L1193.7 714.2L1198.7 717L1202.9 717.5L1206.2 721.3L1209.6 721.7L1212.9 719.2L1217.1 723.3L1222.1 727.5L1227.1 729.2L1232.9 727.5L1236.2 730L1239.6 733.3L1242.9 728L1247.1 727.5L1252.9 728L1256.2 733L1259.6 734.7L1262.9 730.3L1266.2 731.3L1269.6 730L1272.9 733L1276.7 738.3L1282.1 737.5L1288.7 738L1295.4 740.8L1300.4 742.5L1307.1 743L1313.7 742.5L1320.4 743.3L1323.7 744.2L1327.9 745.8L1331.2 745.8L1333.7 744.7L1337.1 749.7L1340.4 744.2L1347.1 744.2L1353.7 743.7L1360.4 743.7L1364.6 743.7L1367.6 750L1370.4 741.3L1370.4 828.3L1367.6 835.8L1364.6 829.2L1360.4 828L1353.7 828L1347.1 827.5L1340.4 827.5L1337.1 832.5L1333.7 827L1331.2 828L1327.9 827.5L1323.7 824.2L1320.4 820.8L1313.7 819.2L1307.1 818L1300.4 815.8L1295.4 813.3L1288.7 810L1282.1 809.2L1276.7 810L1272.9 803.3L1269.6 800.3L1266.2 801.7L1262.9 800.8L1259.6 803.3L1256.2 802.5L1252.9 797.5L1247.1 796.3L1242.9 796.3L1239.6 800.8L1236.2 796.7L1232.9 794.2L1227.1 795.3L1222.1 793.7L1217.1 790.8L1212.9 788L1209.6 790L1206.2 789.7L1202.9 786.3L1198.7 786.7L1193.7 785.8L1187.1 784.2L1182.1 783.3L1178.7 785.8L1175.4 785.3L1170.4 783L1165.4 780.8L1162.1 775.3L1158.7 776.7L1155.4 775L1152.1 769.2L1147.1 765.3L1140.4 760.8L1134.6 757L1131.2 764.2L1124.6 762.5L1121.2 755.8L1113.7 752.5L1110.4 750L1103.7 747.5L1097.1 744.2L1090.4 741.7L1084.6 738.7L1078.7 739.2L1073.7 739.7L1067.9 735.8L1064.6 715.3L1058.7 714.2L1054.1 712.5L1050.7 718L1045.4 713.7L1038.7 708.3L1032.1 705L1027.1 701.7L1022.1 699.2L1015.4 695.3L1010.4 692.5L1007.1 695L1003.7 693.3L997.1 689.2L990.4 682.5L985.4 680L979.6 677L973.7 674.2L970.4 666.3L965.4 665.8L960.4 662.5L956.7 660.8L953.7 666.3L948.7 663L943.7 660L939.6 658.3L935.4 653.3L930.4 649.7L926.2 646.7L922.9 652L915.4 650L909.6 645.8L906.2 641.7L902.9 642.5L898.7 639.2L893.7 635.8L888.7 633.3L880.4 631.3L873.7 630.3L869.1 628.7L865.4 632L859.6 629.2L856.2 630.8L852.1 630L845.4 629.7L838.7 630.3L834.6 627.5L832.1 627.5L828.7 633L825.4 633L822.1 628.7L818.7 631.3L812.1 629.7L804.6 628.3L801.2 624.7L795.4 624.2L788.7 625L782.1 624.2L777.9 624.7L774.6 616.7L771.2 616.7L767.9 625.8L763.7 626.3L757.1 626.7L752.1 626.7L747.9 625L744.6 625.8L740.4 624.2L733.7 623.3L729.6 620.3L722.1 620L717.1 620L712.1 618L704.6 616.3L700.4 618.3L692.1 617.5L687.1 616.7L683.7 618L677.1 618.7L672.1 616.7L667.9 620.8L663.7 620.8L660.1 632.5L656.2 626.7L651.2 629.2L647.1 628.7L640.4 631.7L636.2 630L631.2 633.3L627.1 633.7L620.4 635.8L613.7 638L608.7 641.7L603.7 642.8L598.7 642.5L590.4 645.8L582.1 649.2L573.7 652.5L565.4 654.7L560.4 658.3L556.2 662.5L550.4 664.7L545.4 666.3L543.7 668.7L537.1 672L532.9 673.7L528.7 672L522.1 677.5L515.4 682.5L508.7 686.7L504.6 687.5L498.7 693.3L492.1 697.5L486.2 700.5L482.1 700L477.9 702.5L474.6 706.7L470.4 709.2L463.7 713.3L457.1 715.8L450.4 717.5L444.6 720.8L441.2 718.7L436.2 721.7L431.2 723.7L425.4 728.3L418.7 732.5L414.6 734.7L412.1 733L407.1 735L398.7 737.5L392.1 740.8L387.9 742.5L382.9 746.3L379.6 750L375.4 756.7L370.4 759.2L367.1 757.5L364.6 762.7L360.4 765L355.4 767L350.4 771.7L347.1 768.3L342.1 771.3L337.1 773.3L330.4 775L327.1 780.8L323.7 774.2L317.1 776.3L310.4 779.2L303.7 783.7L300.4 787.5L295.4 789.7L290.4 791.7L285.4 792L278.7 793.7L273.7 794.2L268.7 799.2L266.2 798.3L262.1 802.5L255.7 806.3L252.9 803L249.6 809.2L245.4 809.2L238.7 811.3L232.9 814.2L228.7 810L225.4 810.3L221.7 819.2L218.7 814.2L215.4 822.5L208.7 824.2L202.1 825.8L198.4 823.8L195.4 828.3L192.1 825.8L187.1 826.7L177.1 825.8L170.4 827L164.6 828L161.2 825L154.6 825.8L151.2 823L147.9 827L144.9 823.8L141.2 827.5L137.6 827.5Z"/>
<path class="l" d="M137.2 815.7L143.9 816.4L150.7 816.8L157.4 816.9L164.1 816.7L170.9 816.2L177.6 815.4L184.4 814.3L191.1 812.9L197.8 811.2L204.6 809.2L211.3 807L218 804.4L224.8 801.6L231.5 798.5L238.2 795.2L245 791.6L251.7 787.8L258.5 783.8L265.2 779.5L271.9 775L278.7 770.4L285.4 765.5L292.1 760.5L298.9 755.4L305.6 750.1L312.4 744.7L319.1 739.1L325.8 733.5L332.6 727.8L339.3 722.1L346 716.3L352.8 710.5L359.5 704.6L366.2 698.8L373 693L379.7 687.2L386.5 681.5L393.2 675.9L399.9 670.3L406.7 664.9L413.4 659.5L420.1 654.3L426.9 649.2L433.6 644.2L440.4 639.4L447.1 634.8L453.8 630.3L460.6 626L467.3 622L474 618.1L480.8 614.4L487.5 611L494.2 607.7L501 604.7L507.7 601.9L514.5 599.4L521.2 597L527.9 594.9L534.7 593L541.4 591.4L548.1 589.9L554.9 588.7L561.6 587.7L568.4 586.9L575.1 586.3L581.8 585.8L588.6 585.6L595.3 585.6L602 585.7L608.8 586L615.5 586.5L622.2 587.1L629 587.8L635.7 588.7L642.5 589.7L649.2 590.8L655.9 592L662.7 593.2L669.4 594.6L676.1 596L682.9 597.5L689.6 599L696.3 600.5L703.1 602.1L709.8 603.6L716.6 605.2L723.3 606.8L730 608.3L736.8 609.9L743.5 611.4L750.2 612.9L757 614.3L763.7 615.7L770.5 617L777.2 618.3L783.9 619.5L790.7 620.7L797.4 621.7L804.1 622.8L810.9 623.7L817.6 624.6L824.3 625.4L831.1 626.2L837.8 626.9L844.6 627.5L851.3 628.1L858 628.6L864.8 629.1L871.5 629.5L878.2 629.9L885 630.3L891.7 630.6L898.5 631L905.2 631.3L911.9 631.6L918.7 631.9L925.4 632.3L932.1 632.6L938.9 633L945.6 633.4L952.3 633.9L959.1 634.5L965.8 635.1L972.6 635.8L979.3 636.5L986 637.4L992.8 638.4L999.5 639.4L1006.2 640.6L1013 641.9L1019.7 643.4L1026.4 644.9L1033.2 646.6L1039.9 648.5L1046.7 650.5L1053.4 652.6L1060.1 654.9L1066.9 657.3L1073.6 659.9L1080.3 662.7L1087.1 665.6L1093.8 668.6L1100.6 671.8L1107.3 675.2L1114 678.6L1120.8 682.3L1127.5 686L1134.2 689.9L1141 693.9L1147.7 698L1154.4 702.2L1161.2 706.5L1167.9 710.8L1174.7 715.3L1181.4 719.8L1188.1 724.3L1194.9 728.9L1201.6 733.5L1208.3 738.2L1215.1 742.8L1221.8 747.4L1228.6 751.9L1235.3 756.4L1242 760.9L1248.8 765.3L1255.5 769.6L1262.2 773.8L1269 777.8L1275.7 781.8L1282.4 785.6L1289.2 789.2L1295.9 792.7L1302.7 795.9L1309.4 799L1316.1 801.9L1322.9 804.5L1329.6 806.9L1336.3 809.1L1343.1 811L1349.8 812.7L1356.6 814.1L1363.3 815.2L1370 816"/>
<path class="l" d="M137.2 777.6L143.9 775.7L150.7 773.8L157.4 771.7L164.1 769.6L170.9 767.4L177.6 765.2L184.4 763L191.1 760.7L197.8 758.3L204.6 756L211.3 753.6L218 751.3L224.8 748.9L231.5 746.5L238.2 744.2L245 741.9L251.7 739.5L258.5 737.2L265.2 735L271.9 732.8L278.7 730.6L285.4 728.4L292.1 726.3L298.9 724.2L305.6 722.1L312.4 720.1L319.1 718.2L325.8 716.2L332.6 714.3L339.3 712.5L346 710.7L352.8 708.9L359.5 707.1L366.2 705.4L373 703.7L379.7 702L386.5 700.3L393.2 698.6L399.9 696.9L406.7 695.3L413.4 693.6L420.1 691.9L426.9 690.3L433.6 688.6L440.4 686.8L447.1 685.1L453.8 683.3L460.6 681.5L467.3 679.6L474 677.8L480.8 675.8L487.5 673.8L494.2 671.8L501 669.7L507.7 667.5L514.5 665.3L521.2 663.1L527.9 660.7L534.7 658.3L541.4 655.9L548.1 653.4L554.9 650.8L561.6 648.1L568.4 645.5L575.1 642.7L581.8 639.9L588.6 637.1L595.3 634.2L602 631.2L608.8 628.3L615.5 625.3L622.2 622.2L629 619.2L635.7 616.1L642.5 613.1L649.2 610L655.9 607L662.7 604L669.4 601L676.1 598L682.9 595.1L689.6 592.3L696.3 589.5L703.1 586.8L709.8 584.2L716.6 581.7L723.3 579.2L730 576.9L736.8 574.7L743.5 572.7L750.2 570.8L757 569L763.7 567.4L770.5 565.9L777.2 564.7L783.9 563.6L790.7 562.7L797.4 562L804.1 561.5L810.9 561.2L817.6 561.1L824.3 561.2L831.1 561.5L837.8 562.1L844.6 562.9L851.3 563.9L858 565.2L864.8 566.7L871.5 568.4L878.2 570.3L885 572.5L891.7 574.9L898.5 577.5L905.2 580.3L911.9 583.3L918.7 586.6L925.4 590L932.1 593.6L938.9 597.5L945.6 601.5L952.3 605.6L959.1 610L965.8 614.5L972.6 619.1L979.3 623.8L986 628.7L992.8 633.7L999.5 638.8L1006.2 644L1013 649.2L1019.7 654.5L1026.4 659.9L1033.2 665.3L1039.9 670.7L1046.7 676.1L1053.4 681.5L1060.1 686.9L1066.9 692.3L1073.6 697.6L1080.3 702.8L1087.1 708L1093.8 713.2L1100.6 718.2L1107.3 723.1L1114 727.9L1120.8 732.6L1127.5 737.2L1134.2 741.6L1141 745.8L1147.7 749.9L1154.4 753.8L1161.2 757.6L1167.9 761.2L1174.7 764.5L1181.4 767.7L1188.1 770.7L1194.9 773.5L1201.6 776L1208.3 778.4L1215.1 780.6L1221.8 782.5L1228.6 784.2L1235.3 785.7L1242 787L1248.8 788.1L1255.5 789L1262.2 789.7L1269 790.2L1275.7 790.4L1282.4 790.5L1289.2 790.4L1295.9 790.1L1302.7 789.7L1309.4 789L1316.1 788.2L1322.9 787.3L1329.6 786.2L1336.3 784.9L1343.1 783.6L1349.8 782.1L1356.6 780.5L1363.3 778.7L1370 776.9"/>
<path class="l" d="M137.2 772.2L143.9 772L150.7 771.6L157.4 771.2L164.1 770.7L170.9 770.1L177.6 769.4L184.4 768.6L191.1 767.7L197.8 766.7L204.6 765.6L211.3 764.4L218 763.1L224.8 761.7L231.5 760.2L238.2 758.6L245 757L251.7 755.2L258.5 753.4L265.2 751.4L271.9 749.4L278.7 747.3L285.4 745.2L292.1 742.9L298.9 740.6L305.6 738.2L312.4 735.7L319.1 733.2L325.8 730.6L332.6 728L339.3 725.2L346 722.5L352.8 719.6L359.5 716.8L366.2 713.8L373 710.9L379.7 707.9L386.5 704.8L393.2 701.7L399.9 698.6L406.7 695.5L413.4 692.3L420.1 689.1L426.9 685.9L433.6 682.7L440.4 679.5L447.1 676.3L453.8 673.1L460.6 669.8L467.3 666.6L474 663.4L480.8 660.2L487.5 657L494.2 653.9L501 650.7L507.7 647.6L514.5 644.6L521.2 641.5L527.9 638.5L534.7 635.6L541.4 632.7L548.1 629.9L554.9 627.1L561.6 624.4L568.4 621.7L575.1 619.1L581.8 616.6L588.6 614.1L595.3 611.7L602 609.5L608.8 607.2L615.5 605.1L622.2 603.1L629 601.2L635.7 599.3L642.5 597.6L649.2 595.9L655.9 594.4L662.7 592.9L669.4 591.6L676.1 590.4L682.9 589.3L689.6 588.3L696.3 587.4L703.1 586.6L709.8 586L716.6 585.4L723.3 585L730 584.7L736.8 584.5L743.5 584.4L750.2 584.5L757 584.7L763.7 585L770.5 585.4L777.2 585.9L783.9 586.5L790.7 587.3L797.4 588.2L804.1 589.2L810.9 590.3L817.6 591.5L824.3 592.8L831.1 594.3L837.8 595.8L844.6 597.4L851.3 599.2L858 601L864.8 603L871.5 605L878.2 607.1L885 609.3L891.7 611.6L898.5 614L905.2 616.5L911.9 619L918.7 621.6L925.4 624.3L932.1 627L938.9 629.8L945.6 632.7L952.3 635.6L959.1 638.5L965.8 641.5L972.6 644.6L979.3 647.7L986 650.8L992.8 653.9L999.5 657.1L1006.2 660.3L1013 663.5L1019.7 666.8L1026.4 670L1033.2 673.3L1039.9 676.5L1046.7 679.7L1053.4 683L1060.1 686.2L1066.9 689.4L1073.6 692.6L1080.3 695.8L1087.1 699L1093.8 702.1L1100.6 705.2L1107.3 708.3L1114 711.3L1120.8 714.3L1127.5 717.2L1134.2 720.1L1141 722.9L1147.7 725.7L1154.4 728.4L1161.2 731.1L1167.9 733.7L1174.7 736.2L1181.4 738.7L1188.1 741.1L1194.9 743.4L1201.6 745.6L1208.3 747.8L1215.1 749.9L1221.8 751.9L1228.6 753.8L1235.3 755.6L1242 757.4L1248.8 759L1255.5 760.6L1262.2 762L1269 763.4L1275.7 764.7L1282.4 765.9L1289.2 767L1295.9 767.9L1302.7 768.8L1309.4 769.6L1316.1 770.3L1322.9 770.9L1329.6 771.4L1336.3 771.7L1343.1 772L1349.8 772.2L1356.6 772.3L1363.3 772.2L1370 772.1"/>
<path class="l" d="M137.2 805.5L143.9 805.3L150.7 804.9L157.4 804.3L164.1 803.5L170.9 802.6L177.6 801.5L184.4 800.2L191.1 798.7L197.8 797.1L204.6 795.3L211.3 793.3L218 791.2L224.8 789L231.5 786.6L238.2 784.1L245 781.5L251.7 778.7L258.5 775.9L265.2 772.9L271.9 769.8L278.7 766.6L285.4 763.3L292.1 760L298.9 756.6L305.6 753.1L312.4 749.5L319.1 745.9L325.8 742.2L332.6 738.5L339.3 734.8L346 731L352.8 727.2L359.5 723.4L366.2 719.5L373 715.7L379.7 711.9L386.5 708L393.2 704.2L399.9 700.4L406.7 696.6L413.4 692.8L420.1 689.1L426.9 685.4L433.6 681.7L440.4 678.1L447.1 674.5L453.8 670.9L460.6 667.4L467.3 664L474 660.6L480.8 657.3L487.5 654L494.2 650.8L501 647.6L507.7 644.5L514.5 641.5L521.2 638.5L527.9 635.6L534.7 632.7L541.4 629.9L548.1 627.2L554.9 624.6L561.6 622L568.4 619.5L575.1 617L581.8 614.6L588.6 612.3L595.3 610.1L602 607.9L608.8 605.8L615.5 603.7L622.2 601.7L629 599.8L635.7 597.9L642.5 596.1L649.2 594.4L655.9 592.8L662.7 591.2L669.4 589.6L676.1 588.2L682.9 586.8L689.6 585.5L696.3 584.2L703.1 583L709.8 581.9L716.6 580.9L723.3 579.9L730 579L736.8 578.2L743.5 577.5L750.2 576.9L757 576.3L763.7 575.8L770.5 575.4L777.2 575.1L783.9 574.9L790.7 574.8L797.4 574.7L804.1 574.8L810.9 575L817.6 575.2L824.3 575.6L831.1 576.1L837.8 576.7L844.6 577.4L851.3 578.2L858 579.2L864.8 580.2L871.5 581.4L878.2 582.7L885 584.1L891.7 585.6L898.5 587.3L905.2 589L911.9 590.9L918.7 593L925.4 595.1L932.1 597.4L938.9 599.8L945.6 602.4L952.3 605L959.1 607.8L965.8 610.7L972.6 613.7L979.3 616.9L986 620.1L992.8 623.5L999.5 627L1006.2 630.6L1013 634.2L1019.7 638L1026.4 641.9L1033.2 645.8L1039.9 649.9L1046.7 654L1053.4 658.2L1060.1 662.5L1066.9 666.8L1073.6 671.2L1080.3 675.6L1087.1 680L1093.8 684.5L1100.6 689L1107.3 693.6L1114 698.1L1120.8 702.7L1127.5 707.2L1134.2 711.7L1141 716.3L1147.7 720.7L1154.4 725.2L1161.2 729.6L1167.9 733.9L1174.7 738.2L1181.4 742.4L1188.1 746.5L1194.9 750.6L1201.6 754.5L1208.3 758.4L1215.1 762.1L1221.8 765.7L1228.6 769.2L1235.3 772.6L1242 775.8L1248.8 778.9L1255.5 781.9L1262.2 784.6L1269 787.3L1275.7 789.7L1282.4 792.1L1289.2 794.2L1295.9 796.1L1302.7 797.9L1309.4 799.5L1316.1 800.9L1322.9 802.1L1329.6 803.2L1336.3 804L1343.1 804.7L1349.8 805.2L1356.6 805.4L1363.3 805.5L1370 805.4"/>
<path class="l" d="M137.2 782.7L143.9 782.5L150.7 782.2L157.4 781.9L164.1 781.4L170.9 780.8L177.6 780.1L184.4 779.2L191.1 778.3L197.8 777.3L204.6 776.1L211.3 774.8L218 773.5L224.8 772L231.5 770.4L238.2 768.7L245 766.9L251.7 765L258.5 763.1L265.2 761L271.9 758.8L278.7 756.5L285.4 754.2L292.1 751.7L298.9 749.2L305.6 746.5L312.4 743.8L319.1 741L325.8 738.2L332.6 735.2L339.3 732.2L346 729.2L352.8 726L359.5 722.8L366.2 719.6L373 716.3L379.7 712.9L386.5 709.5L393.2 706L399.9 702.5L406.7 699L413.4 695.4L420.1 691.9L426.9 688.2L433.6 684.6L440.4 681L447.1 677.3L453.8 673.7L460.6 670L467.3 666.4L474 662.7L480.8 659.1L487.5 655.5L494.2 651.9L501 648.3L507.7 644.8L514.5 641.3L521.2 637.8L527.9 634.4L534.7 631L541.4 627.7L548.1 624.5L554.9 621.3L561.6 618.1L568.4 615.1L575.1 612.1L581.8 609.2L588.6 606.4L595.3 603.7L602 601.1L608.8 598.5L615.5 596.1L622.2 593.8L629 591.5L635.7 589.4L642.5 587.4L649.2 585.5L655.9 583.8L662.7 582.1L669.4 580.6L676.1 579.2L682.9 577.9L689.6 576.8L696.3 575.8L703.1 574.9L709.8 574.1L716.6 573.5L723.3 573L730 572.7L736.8 572.5L743.5 572.4L750.2 572.5L757 572.7L763.7 573L770.5 573.5L777.2 574.1L783.9 574.8L790.7 575.7L797.4 576.7L804.1 577.8L810.9 579.1L817.6 580.5L824.3 582L831.1 583.6L837.8 585.3L844.6 587.2L851.3 589.2L858 591.3L864.8 593.5L871.5 595.8L878.2 598.2L885 600.7L891.7 603.3L898.5 605.9L905.2 608.7L911.9 611.5L918.7 614.5L925.4 617.5L932.1 620.6L938.9 623.7L945.6 626.9L952.3 630.2L959.1 633.5L965.8 636.8L972.6 640.2L979.3 643.7L986 647.2L992.8 650.7L999.5 654.2L1006.2 657.8L1013 661.4L1019.7 665L1026.4 668.6L1033.2 672.2L1039.9 675.8L1046.7 679.4L1053.4 683L1060.1 686.6L1066.9 690.1L1073.6 693.7L1080.3 697.2L1087.1 700.7L1093.8 704.1L1100.6 707.6L1107.3 711L1114 714.3L1120.8 717.6L1127.5 720.8L1134.2 724L1141 727.2L1147.7 730.2L1154.4 733.2L1161.2 736.2L1167.9 739.1L1174.7 741.9L1181.4 744.6L1188.1 747.2L1194.9 749.8L1201.6 752.3L1208.3 754.7L1215.1 757L1221.8 759.3L1228.6 761.4L1235.3 763.4L1242 765.4L1248.8 767.2L1255.5 769L1262.2 770.7L1269 772.2L1275.7 773.7L1282.4 775L1289.2 776.2L1295.9 777.4L1302.7 778.4L1309.4 779.3L1316.1 780.1L1322.9 780.8L1329.6 781.4L1336.3 781.9L1343.1 782.3L1349.8 782.5L1356.6 782.7L1363.3 782.7L1370 782.6"/>
<path class="l" d="M137.2 787.4L143.9 787.2L150.7 786.8L157.4 786.4L164.1 785.8L170.9 785.1L177.6 784.3L184.4 783.4L191.1 782.3L197.8 781.1L204.6 779.9L211.3 778.5L218 777L224.8 775.4L231.5 773.7L238.2 771.8L245 769.9L251.7 767.9L258.5 765.8L265.2 763.6L271.9 761.3L278.7 758.9L285.4 756.4L292.1 753.9L298.9 751.2L305.6 748.5L312.4 745.7L319.1 742.9L325.8 740L332.6 737L339.3 733.9L346 730.8L352.8 727.6L359.5 724.4L366.2 721.1L373 717.8L379.7 714.5L386.5 711.1L393.2 707.6L399.9 704.2L406.7 700.7L413.4 697.2L420.1 693.6L426.9 690.1L433.6 686.5L440.4 682.9L447.1 679.3L453.8 675.8L460.6 672.2L467.3 668.6L474 665L480.8 661.5L487.5 657.9L494.2 654.4L501 650.9L507.7 647.5L514.5 644L521.2 640.7L527.9 637.3L534.7 634L541.4 630.7L548.1 627.5L554.9 624.4L561.6 621.3L568.4 618.2L575.1 615.2L581.8 612.3L588.6 609.5L595.3 606.8L602 604.1L608.8 601.5L615.5 599L622.2 596.6L629 594.3L635.7 592L642.5 589.9L649.2 587.9L655.9 586L662.7 584.1L669.4 582.4L676.1 580.8L682.9 579.4L689.6 578L696.3 576.8L703.1 575.6L709.8 574.6L716.6 573.8L723.3 573L730 572.4L736.8 571.9L743.5 571.5L750.2 571.3L757 571.2L763.7 571.2L770.5 571.4L777.2 571.7L783.9 572.1L790.7 572.6L797.4 573.3L804.1 574.2L810.9 575.1L817.6 576.2L824.3 577.4L831.1 578.7L837.8 580.2L844.6 581.8L851.3 583.5L858 585.4L864.8 587.3L871.5 589.4L878.2 591.6L885 593.9L891.7 596.3L898.5 598.8L905.2 601.4L911.9 604.2L918.7 607L925.4 609.9L932.1 612.9L938.9 616L945.6 619.1L952.3 622.4L959.1 625.7L965.8 629.1L972.6 632.6L979.3 636.1L986 639.6L992.8 643.2L999.5 646.9L1006.2 650.6L1013 654.4L1019.7 658.1L1026.4 661.9L1033.2 665.8L1039.9 669.6L1046.7 673.4L1053.4 677.3L1060.1 681.1L1066.9 685L1073.6 688.8L1080.3 692.7L1087.1 696.5L1093.8 700.3L1100.6 704L1107.3 707.7L1114 711.4L1120.8 715.1L1127.5 718.7L1134.2 722.2L1141 725.7L1147.7 729.1L1154.4 732.5L1161.2 735.8L1167.9 739L1174.7 742.1L1181.4 745.2L1188.1 748.1L1194.9 751L1201.6 753.8L1208.3 756.5L1215.1 759.1L1221.8 761.6L1228.6 764L1235.3 766.3L1242 768.5L1248.8 770.6L1255.5 772.5L1262.2 774.4L1269 776.1L1275.7 777.7L1282.4 779.2L1289.2 780.6L1295.9 781.8L1302.7 782.9L1309.4 783.9L1316.1 784.8L1322.9 785.6L1329.6 786.2L1336.3 786.7L1343.1 787.1L1349.8 787.3L1356.6 787.4L1363.3 787.4L1370 787.3"/>
<path class="l" d="M137.2 785.1L143.9 785.4L150.7 785.6L157.4 785.6L164.1 785.5L170.9 785.3L177.6 784.9L184.4 784.3L191.1 783.7L197.8 782.8L204.6 781.9L211.3 780.7L218 779.5L224.8 778.1L231.5 776.5L238.2 774.8L245 773L251.7 771L258.5 768.9L265.2 766.7L271.9 764.3L278.7 761.8L285.4 759.1L292.1 756.4L298.9 753.5L305.6 750.5L312.4 747.4L319.1 744.1L325.8 740.8L332.6 737.4L339.3 733.9L346 730.3L352.8 726.6L359.5 722.8L366.2 719L373 715.1L379.7 711.2L386.5 707.2L393.2 703.1L399.9 699.1L406.7 695L413.4 690.8L420.1 686.7L426.9 682.6L433.6 678.4L440.4 674.3L447.1 670.1L453.8 666L460.6 661.9L467.3 657.9L474 653.9L480.8 649.9L487.5 646L494.2 642.1L501 638.3L507.7 634.6L514.5 631L521.2 627.4L527.9 624L534.7 620.6L541.4 617.3L548.1 614.2L554.9 611.1L561.6 608.1L568.4 605.3L575.1 602.6L581.8 600L588.6 597.5L595.3 595.2L602 593L608.8 590.9L615.5 589L622.2 587.2L629 585.5L635.7 584L642.5 582.6L649.2 581.3L655.9 580.2L662.7 579.3L669.4 578.4L676.1 577.7L682.9 577.2L689.6 576.8L696.3 576.5L703.1 576.3L709.8 576.3L716.6 576.4L723.3 576.6L730 577L736.8 577.5L743.5 578.1L750.2 578.8L757 579.6L763.7 580.6L770.5 581.6L777.2 582.7L783.9 584L790.7 585.3L797.4 586.8L804.1 588.3L810.9 589.9L817.6 591.6L824.3 593.4L831.1 595.3L837.8 597.2L844.6 599.2L851.3 601.3L858 603.4L864.8 605.6L871.5 607.9L878.2 610.2L885 612.5L891.7 614.9L898.5 617.4L905.2 619.9L911.9 622.4L918.7 625L925.4 627.6L932.1 630.3L938.9 632.9L945.6 635.7L952.3 638.4L959.1 641.2L965.8 643.9L972.6 646.7L979.3 649.6L986 652.4L992.8 655.3L999.5 658.2L1006.2 661.1L1013 664L1019.7 666.9L1026.4 669.8L1033.2 672.8L1039.9 675.7L1046.7 678.7L1053.4 681.6L1060.1 684.6L1066.9 687.5L1073.6 690.5L1080.3 693.5L1087.1 696.4L1093.8 699.4L1100.6 702.3L1107.3 705.3L1114 708.2L1120.8 711.1L1127.5 714L1134.2 716.9L1141 719.8L1147.7 722.6L1154.4 725.5L1161.2 728.3L1167.9 731.1L1174.7 733.8L1181.4 736.5L1188.1 739.2L1194.9 741.8L1201.6 744.4L1208.3 747L1215.1 749.5L1221.8 752L1228.6 754.4L1235.3 756.7L1242 759L1248.8 761.2L1255.5 763.3L1262.2 765.4L1269 767.4L1275.7 769.3L1282.4 771.1L1289.2 772.8L1295.9 774.5L1302.7 776L1309.4 777.4L1316.1 778.8L1322.9 780L1329.6 781.1L1336.3 782.1L1343.1 783L1349.8 783.8L1356.6 784.4L1363.3 784.9L1370 785.3"/>
<path class="l" d="M137.2 780.4L143.9 780.6L150.7 780.8L157.4 780.8L164.1 780.7L170.9 780.5L177.6 780.2L184.4 779.8L191.1 779.2L197.8 778.6L204.6 777.8L211.3 776.9L218 775.9L224.8 774.8L231.5 773.5L238.2 772.2L245 770.7L251.7 769.2L258.5 767.5L265.2 765.7L271.9 763.8L278.7 761.8L285.4 759.7L292.1 757.5L298.9 755.2L305.6 752.8L312.4 750.3L319.1 747.7L325.8 745.1L332.6 742.3L339.3 739.4L346 736.5L352.8 733.5L359.5 730.4L366.2 727.3L373 724.1L379.7 720.8L386.5 717.4L393.2 714L399.9 710.6L406.7 707.1L413.4 703.6L420.1 700L426.9 696.4L433.6 692.8L440.4 689.1L447.1 685.4L453.8 681.7L460.6 678L467.3 674.3L474 670.6L480.8 666.9L487.5 663.3L494.2 659.6L501 656L507.7 652.3L514.5 648.7L521.2 645.2L527.9 641.7L534.7 638.2L541.4 634.8L548.1 631.4L554.9 628.1L561.6 624.9L568.4 621.7L575.1 618.7L581.8 615.6L588.6 612.7L595.3 609.9L602 607.1L608.8 604.5L615.5 601.9L622.2 599.5L629 597.1L635.7 594.9L642.5 592.7L649.2 590.7L655.9 588.8L662.7 587L669.4 585.4L676.1 583.8L682.9 582.4L689.6 581.1L696.3 580L703.1 578.9L709.8 578L716.6 577.3L723.3 576.6L730 576.1L736.8 575.7L743.5 575.5L750.2 575.4L757 575.4L763.7 575.6L770.5 575.8L777.2 576.3L783.9 576.8L790.7 577.5L797.4 578.3L804.1 579.2L810.9 580.2L817.6 581.4L824.3 582.7L831.1 584L837.8 585.6L844.6 587.2L851.3 588.9L858 590.7L864.8 592.7L871.5 594.7L878.2 596.8L885 599L891.7 601.4L898.5 603.8L905.2 606.2L911.9 608.8L918.7 611.4L925.4 614.2L932.1 616.9L938.9 619.8L945.6 622.7L952.3 625.7L959.1 628.7L965.8 631.7L972.6 634.9L979.3 638L986 641.2L992.8 644.4L999.5 647.7L1006.2 651L1013 654.3L1019.7 657.6L1026.4 661L1033.2 664.3L1039.9 667.7L1046.7 671.1L1053.4 674.5L1060.1 677.9L1066.9 681.2L1073.6 684.6L1080.3 687.9L1087.1 691.3L1093.8 694.6L1100.6 697.9L1107.3 701.2L1114 704.4L1120.8 707.6L1127.5 710.8L1134.2 713.9L1141 717L1147.7 720.1L1154.4 723.1L1161.2 726.1L1167.9 729L1174.7 731.8L1181.4 734.6L1188.1 737.4L1194.9 740L1201.6 742.7L1208.3 745.2L1215.1 747.7L1221.8 750.1L1228.6 752.4L1235.3 754.7L1242 756.8L1248.8 758.9L1255.5 760.9L1262.2 762.8L1269 764.7L1275.7 766.4L1282.4 768.1L1289.2 769.6L1295.9 771.1L1302.7 772.5L1309.4 773.7L1316.1 774.9L1322.9 776L1329.6 776.9L1336.3 777.8L1343.1 778.6L1349.8 779.2L1356.6 779.7L1363.3 780.2L1370 780.5"/>
<path class="l" d="M137.2 789.1L143.9 789L150.7 788.7L157.4 788.4L164.1 787.8L170.9 787.2L177.6 786.4L184.4 785.4L191.1 784.4L197.8 783.2L204.6 781.8L211.3 780.4L218 778.8L224.8 777.1L231.5 775.3L238.2 773.4L245 771.4L251.7 769.3L258.5 767.1L265.2 764.7L271.9 762.3L278.7 759.9L285.4 757.3L292.1 754.7L298.9 752L305.6 749.2L312.4 746.3L319.1 743.5L325.8 740.5L332.6 737.5L339.3 734.5L346 731.4L352.8 728.2L359.5 725.1L366.2 721.9L373 718.7L379.7 715.5L386.5 712.2L393.2 708.9L399.9 705.7L406.7 702.4L413.4 699.1L420.1 695.8L426.9 692.5L433.6 689.2L440.4 686L447.1 682.7L453.8 679.5L460.6 676.2L467.3 673L474 669.8L480.8 666.7L487.5 663.5L494.2 660.4L501 657.3L507.7 654.3L514.5 651.3L521.2 648.3L527.9 645.4L534.7 642.5L541.4 639.6L548.1 636.8L554.9 634L561.6 631.3L568.4 628.6L575.1 626L581.8 623.4L588.6 620.9L595.3 618.5L602 616.1L608.8 613.7L615.5 611.4L622.2 609.2L629 607.1L635.7 605L642.5 602.9L649.2 601L655.9 599.1L662.7 597.3L669.4 595.5L676.1 593.9L682.9 592.3L689.6 590.8L696.3 589.4L703.1 588L709.8 586.8L716.6 585.6L723.3 584.5L730 583.5L736.8 582.6L743.5 581.8L750.2 581.1L757 580.5L763.7 580L770.5 579.6L777.2 579.3L783.9 579.1L790.7 579L797.4 579.1L804.1 579.2L810.9 579.5L817.6 579.8L824.3 580.3L831.1 580.9L837.8 581.6L844.6 582.5L851.3 583.4L858 584.5L864.8 585.7L871.5 587L878.2 588.4L885 590L891.7 591.6L898.5 593.4L905.2 595.3L911.9 597.3L918.7 599.5L925.4 601.7L932.1 604.1L938.9 606.6L945.6 609.2L952.3 611.8L959.1 614.6L965.8 617.5L972.6 620.5L979.3 623.6L986 626.8L992.8 630L999.5 633.4L1006.2 636.8L1013 640.3L1019.7 643.9L1026.4 647.5L1033.2 651.2L1039.9 655L1046.7 658.8L1053.4 662.6L1060.1 666.5L1066.9 670.4L1073.6 674.4L1080.3 678.3L1087.1 682.3L1093.8 686.3L1100.6 690.3L1107.3 694.3L1114 698.3L1120.8 702.3L1127.5 706.2L1134.2 710.2L1141 714L1147.7 717.9L1154.4 721.7L1161.2 725.4L1167.9 729.1L1174.7 732.7L1181.4 736.3L1188.1 739.8L1194.9 743.2L1201.6 746.5L1208.3 749.7L1215.1 752.8L1221.8 755.8L1228.6 758.7L1235.3 761.5L1242 764.2L1248.8 766.7L1255.5 769.2L1262.2 771.5L1269 773.6L1275.7 775.7L1282.4 777.6L1289.2 779.3L1295.9 781L1302.7 782.4L1309.4 783.8L1316.1 784.9L1322.9 786L1329.6 786.9L1336.3 787.6L1343.1 788.2L1349.8 788.6L1356.6 788.9L1363.3 789.1L1370 789.1"/>
<path class="l" d="M137.2 785.9L143.9 785.8L150.7 785.7L157.4 785.4L164.1 784.9L170.9 784.4L177.6 783.7L184.4 782.8L191.1 781.8L197.8 780.7L204.6 779.5L211.3 778.1L218 776.6L224.8 775L231.5 773.2L238.2 771.3L245 769.4L251.7 767.2L258.5 765L265.2 762.7L271.9 760.2L278.7 757.7L285.4 755L292.1 752.3L298.9 749.5L305.6 746.5L312.4 743.5L319.1 740.5L325.8 737.3L332.6 734.1L339.3 730.8L346 727.4L352.8 724L359.5 720.5L366.2 717L373 713.4L379.7 709.8L386.5 706.2L393.2 702.6L399.9 698.9L406.7 695.2L413.4 691.5L420.1 687.8L426.9 684.1L433.6 680.4L440.4 676.7L447.1 673L453.8 669.4L460.6 665.8L467.3 662.2L474 658.6L480.8 655L487.5 651.6L494.2 648.1L501 644.7L507.7 641.4L514.5 638.1L521.2 634.9L527.9 631.7L534.7 628.6L541.4 625.6L548.1 622.7L554.9 619.8L561.6 617L568.4 614.4L575.1 611.7L581.8 609.2L588.6 606.8L595.3 604.5L602 602.3L608.8 600.1L615.5 598.1L622.2 596.2L629 594.3L635.7 592.6L642.5 591L649.2 589.5L655.9 588.1L662.7 586.8L669.4 585.6L676.1 584.6L682.9 583.6L689.6 582.8L696.3 582L703.1 581.4L709.8 580.9L716.6 580.5L723.3 580.2L730 580L736.8 579.9L743.5 580L750.2 580.1L757 580.4L763.7 580.7L770.5 581.2L777.2 581.7L783.9 582.4L790.7 583.2L797.4 584.1L804.1 585.1L810.9 586.1L817.6 587.3L824.3 588.6L831.1 590L837.8 591.4L844.6 593L851.3 594.6L858 596.4L864.8 598.2L871.5 600.1L878.2 602.1L885 604.2L891.7 606.4L898.5 608.6L905.2 610.9L911.9 613.3L918.7 615.8L925.4 618.3L932.1 620.9L938.9 623.6L945.6 626.3L952.3 629.1L959.1 632L965.8 634.9L972.6 637.8L979.3 640.9L986 643.9L992.8 647L999.5 650.2L1006.2 653.4L1013 656.6L1019.7 659.9L1026.4 663.1L1033.2 666.5L1039.9 669.8L1046.7 673.2L1053.4 676.6L1060.1 680L1066.9 683.4L1073.6 686.8L1080.3 690.2L1087.1 693.6L1093.8 697L1100.6 700.4L1107.3 703.8L1114 707.2L1120.8 710.6L1127.5 713.9L1134.2 717.2L1141 720.5L1147.7 723.7L1154.4 726.9L1161.2 730.1L1167.9 733.2L1174.7 736.3L1181.4 739.3L1188.1 742.2L1194.9 745.1L1201.6 747.9L1208.3 750.6L1215.1 753.3L1221.8 755.9L1228.6 758.4L1235.3 760.8L1242 763.1L1248.8 765.3L1255.5 767.5L1262.2 769.5L1269 771.4L1275.7 773.2L1282.4 774.9L1289.2 776.5L1295.9 778L1302.7 779.3L1309.4 780.6L1316.1 781.7L1322.9 782.7L1329.6 783.5L1336.3 784.2L1343.1 784.8L1349.8 785.3L1356.6 785.6L1363.3 785.8L1370 785.9"/>
</g>
<text id="yB1" class="t" x="41.1" y="591.35">1</text>
<text id="yB0" class="t" x="41.97" y="695.05">0</text>
<text id="yBm1" class="t" x="8.15 39.72" y="798.75">−1</text>
<text id="x0" class="t" x="124.96" y="889.6">0</text>
<text id="x50" class="t" x="281.88 305.62" y="889.6">50</text>
<text id="x100" class="t" x="436.94 460.92 485.66" y="889.6">100</text>
<text id="x150" class="t" x="606.11 629.92 654.43" y="889.6">150</text>
<text id="x200" class="t" x="775.18 798.62 823.35" y="889.6">200</text>
<text id="x250" class="t" x="943.11 966.65 991.39" y="889.6">250</text>
<text id="x300" class="t" x="1112.1 1135.71 1160.44" y="889.6">300</text>
<text id="x350" class="t" x="1280.24 1303.75 1328.24" y="889.6">350</text>
<text id="day" class="xl" x="715.87 741.17 766.93" y="943" transform="translate(753.6 943) scale(0.995 1.035) translate(-753.6 -943)">day</text>
</g>
</svg>
</body>
</html>
